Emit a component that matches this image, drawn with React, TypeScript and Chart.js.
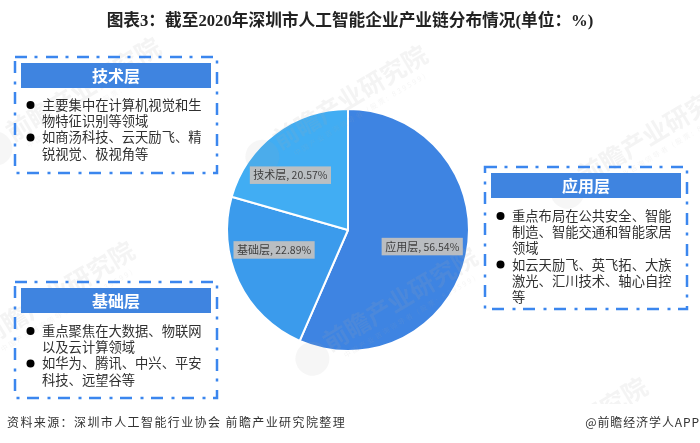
import React, { useEffect, useRef } from "react";
import { Chart, registerables } from "chart.js";

Chart.register(...registerables);

const categories = ["应用层", "基础层", "技术层"];
const shares = [56.54, 22.89, 20.57];
const sliceColors = ["#3e84e2", "#3b9bec", "#41adf3"];
const titleText = "图表3：截至2020年深圳市人工智能企业产业链分布情况(单位：%)";
const sourceText = "资料来源：深圳市人工智能行业协会 前瞻产业研究院整理";
const creditText = "@前瞻经济学人APP";
const watermarkText = "前瞻产业研究院";
const watermarkSub = "中国产业咨询领导者 (股票: 839599)";
const panelTech = ["主要集中在计算机视觉和生", "物特征识别等领域", "如商汤科技、云天励飞、精", "锐视觉、极视角等"];
const panelApp = ["重点布局在公共安全、智能", "制造、智能交通和智能家居", "领域", "如云天励飞、英飞拓、大族", "激光、汇川技术、轴心自控", "等"];
const panelBase = ["重点聚焦在大数据、物联网", "以及云计算领域", "如华为、腾讯、中兴、平安", "科技、远望谷等"];

const sans = '"Noto Sans CJK SC", "Noto Sans", sans-serif';
const panels = [
  { title: "技术层", lines: panelTech, bullets: [0, 2], x: 15, y: 57, w: 202, h: 116, first: 105 },
  { title: "应用层", lines: panelApp, bullets: [0, 3], x: 485, y: 167, w: 202, h: 142, first: 216 },
  { title: "基础层", lines: panelBase, bullets: [0, 2], x: 15, y: 282, w: 202, h: 116, first: 331 },
];
const watermarks = [
  { x: 78, y: 92 },
  { x: 345, y: 100 },
  { x: 395, y: 302 },
  { x: 650, y: 135 },
  { x: 565, y: 432 },
  { x: 52, y: 296 },
];
const labelOffsets = [
  { x: -0.4, y: 1 },
  { x: -5, y: -12.6 },
  { x: -11.7, y: 6 },
];

const overlay = {
  id: "overlay",
  afterLayout(chart: any) {
    const t = chart.titleBlock;
    t.left = 0;
    t.right = chart.width;
    t.width = chart.width;
    t.bottom = t.height;
    t.top = 0;
  },
  afterDatasetsDraw(chart: any) {
    const ctx = chart.ctx;
    ctx.save();
    for (const w of watermarks) {
      ctx.save();
      ctx.beginPath();
      ctx.rect(0, 0, 700, 404);
      ctx.clip();
      ctx.translate(w.x, w.y);
      ctx.rotate(-Math.PI / 5.8);
      ctx.textAlign = "center";
      ctx.textBaseline = "middle";
      ctx.fillStyle = "rgba(170,170,170,0.13)";
      ctx.font = `bold 25px ${sans}`;
      ctx.fillText(watermarkText, 6, 0);
      ctx.fillStyle = "rgba(170,170,170,0.12)";
      ctx.font = `7px ${sans}`;
      (ctx as any).letterSpacing = "2px";
      ctx.fillText(watermarkSub, 6, 20);
      (ctx as any).letterSpacing = "0px";
      ctx.fillStyle = "rgba(170,170,170,0.1)";
      ctx.beginPath();
      ctx.arc(-100, 6, 17, 0, Math.PI * 2);
      ctx.fill();
      ctx.restore();
    }

    const meta = chart.getDatasetMeta(0);
    meta.data.forEach((arc: any, i: number) => {
      const mid = (arc.startAngle + arc.endAngle) / 2;
      const px = arc.x + Math.cos(mid) * arc.outerRadius * 0.63 + labelOffsets[i].x;
      const py = arc.y + Math.sin(mid) * arc.outerRadius * 0.63 + labelOffsets[i].y;
      const a = categories[i];
      const b = `, ${shares[i].toFixed(2)}%`;
      ctx.font = `11px ${sans}`;
      const w1 = ctx.measureText(a).width;
      ctx.font = `10.5px ${sans}`;
      const w2 = ctx.measureText(b).width;
      const w = w1 + w2;
      ctx.fillStyle = "rgba(192,192,192,0.96)";
      ctx.fillRect(px - w / 2 - 3.5, py - 8.75, w + 7, 17.5);
      ctx.fillStyle = "#404040";
      ctx.textBaseline = "middle";
      ctx.textAlign = "left";
      ctx.font = `11px ${sans}`;
      ctx.fillText(a, px - w / 2, py);
      ctx.font = `10.5px ${sans}`;
      ctx.fillText(b, px - w / 2 + w1, py);
    });

    for (const p of panels) {
      ctx.strokeStyle = "#3b86ee";
      ctx.lineWidth = 2.5;
      ctx.setLineDash([12, 7.5, 3, 8.5]);
      ctx.strokeRect(p.x, p.y, p.w, p.h);
      ctx.setLineDash([]);
      ctx.fillStyle = "#3f84e0";
      ctx.fillRect(p.x + 6, p.y + 6, 190, 25);
      ctx.fillStyle = "#ffffff";
      ctx.font = `bold 16px ${sans}`;
      ctx.textAlign = "center";
      ctx.textBaseline = "middle";
      ctx.fillText(p.title, p.x + 101, p.y + 19);
      ctx.textAlign = "left";
      p.lines.forEach((line: string, i: number) => {
        const y = p.first + i * 16.2;
        if (p.bullets.includes(i)) {
          ctx.fillStyle = "#000000";
          ctx.beginPath();
          ctx.arc(p.x + 15.5, y, 4, 0, Math.PI * 2);
          ctx.fill();
        }
        ctx.fillStyle = "#303030";
        ctx.font = `13.3px ${sans}`;
        ctx.fillText(line, p.x + 27, y);
      });
    }

    ctx.fillStyle = "#333333";
    ctx.font = `12px ${sans}`;
    ctx.textBaseline = "middle";
    ctx.textAlign = "left";
    (ctx as any).letterSpacing = "1.4px";
    ctx.fillText(sourceText, 7, 422);
    ctx.textAlign = "right";
    (ctx as any).letterSpacing = "0.9px";
    ctx.fillText(creditText, 700, 422);
    ctx.restore();
  },
};

export default function App() {
  const ref = useRef<HTMLCanvasElement>(null);
  useEffect(() => {
    document.body.style.margin = "0";
    const chart = new Chart(ref.current!, {
      type: "pie",
      data: {
        labels: categories,
        datasets: [
          {
            data: shares,
            backgroundColor: sliceColors,
            borderColor: "#ffffff",
            borderWidth: 2,
          },
        ],
      },
      options: {
        responsive: false,
        animation: false,
        layout: { padding: { top: 70, bottom: 91, left: 226, right: 230 } },
        plugins: {
          legend: { display: false },
          tooltip: { enabled: false },
          title: {
            display: true,
            text: titleText,
            color: "#222222",
            font: { size: 16.7, weight: "bold", family: '"Liberation Serif", "Noto Sans CJK SC", serif', lineHeight: 1.2 },
            padding: { top: 12, bottom: 6 },
          },
        },
      },
      plugins: [overlay],
    } as any);
    return () => chart.destroy();
  }, []);
  return <canvas ref={ref} width={700} height={443} style={{ display: "block" }} />;
}
